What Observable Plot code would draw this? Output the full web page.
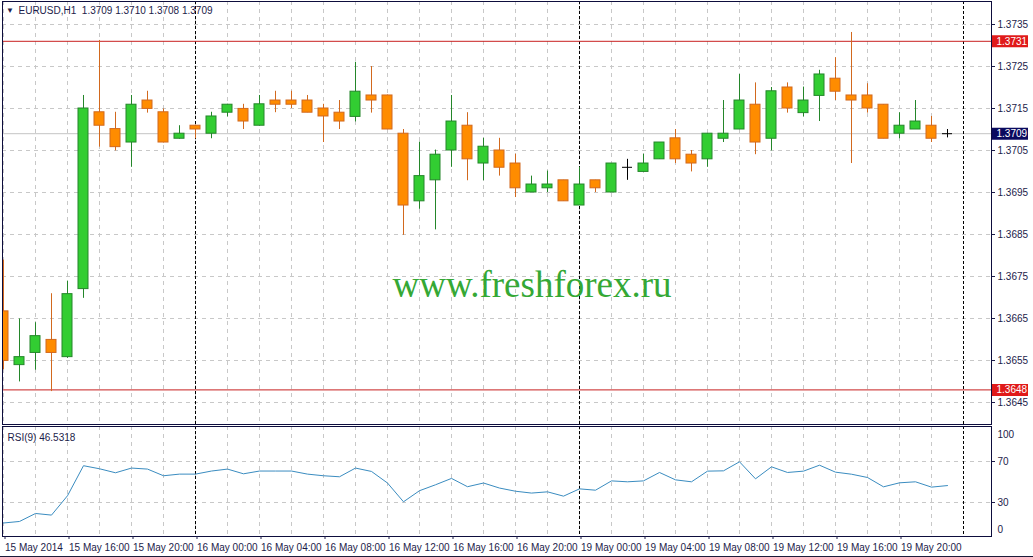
<!DOCTYPE html>
<html>
<head>
<meta charset="utf-8">
<script src="https://cdn.jsdelivr.net/npm/d3@7"></script>
<script src="https://cdn.jsdelivr.net/npm/@observablehq/plot@0.6"></script>
<style>
  html, body { margin: 0; padding: 0; background: #ffffff; }
  #chart { width: 1033px; height: 557px; overflow: hidden; background: #ffffff; }
  #chart svg { display: block; }
  #bottomline { height: 1px; background: #1b1b3a; }
</style>
</head>
<body>
<div id="chart"></div>
<script>
// ---------------- data ----------------
const opens  = [1.36667,1.36539,1.36568,1.36599,1.36558,1.36720,1.37141,1.37101,1.37069,1.37169,
                1.37141,1.37078,1.37109,1.37090,1.37140,1.37149,1.37109,1.37169,1.37169,1.37169,
                1.37150,1.37140,1.37130,1.37181,1.37181,1.37090,1.36929,1.36979,1.37050,1.37109,
                1.37019,1.37050,1.37019,1.36950,1.36960,1.36979,1.36919,1.36979,1.36950,1.37010,
                1.36999,1.37029,1.37079,1.37040,1.37029,1.37078,1.37100,1.37159,1.37078,1.37200,
                1.37139,1.37180,1.37221,1.37181,1.37181,1.37159,1.37090,1.37100,1.37109,1.37090];
const highs  = [1.36789,1.36649,1.36640,1.36709,1.36739,1.37181,1.37312,1.37141,1.37181,1.37191,
                1.37149,1.37109,1.37110,1.37141,1.37160,1.37160,1.37181,1.37191,1.37191,1.37181,
                1.37160,1.37169,1.37260,1.37250,1.37182,1.37100,1.37070,1.37051,1.37181,1.37140,
                1.37079,1.37079,1.37041,1.36989,1.37001,1.36979,1.37010,1.36979,1.37019,1.37029,
                1.37041,1.37069,1.37100,1.37050,1.37090,1.37169,1.37231,1.37211,1.37200,1.37211,
                1.37201,1.37241,1.37271,1.37331,1.37209,1.37159,1.37140,1.37169,1.37131,1.37100];
const lows   = [1.36528,1.36499,1.36527,1.36476,1.36555,1.36698,1.37058,1.37049,1.37010,1.37139,
                1.37068,1.37077,1.37078,1.37078,1.37130,1.37100,1.37108,1.37140,1.37150,1.37140,
                1.37069,1.37100,1.37118,1.37139,1.37100,1.36848,1.36910,1.36861,1.37010,1.36978,
                1.36978,1.36989,1.36938,1.36950,1.36950,1.36929,1.36919,1.36950,1.36950,1.36979,
                1.36999,1.37029,1.37019,1.36999,1.37010,1.37069,1.37100,1.37040,1.37049,1.37139,
                1.37130,1.37119,1.37169,1.37019,1.37139,1.37078,1.37078,1.37100,1.37069,1.37080];
const closes = [1.36549,1.36558,1.36608,1.36568,1.36708,1.37150,1.37109,1.37058,1.37159,1.37149,
                1.37069,1.37090,1.37100,1.37131,1.37159,1.37119,1.37160,1.37159,1.37159,1.37140,
                1.37131,1.37119,1.37190,1.37169,1.37100,1.36919,1.36989,1.37040,1.37119,1.37029,
                1.37059,1.37009,1.36960,1.36969,1.36969,1.36929,1.36969,1.36960,1.37019,1.37010,
                1.37019,1.37069,1.37029,1.37019,1.37090,1.37090,1.37169,1.37069,1.37191,1.37150,
                1.37169,1.37231,1.37190,1.37169,1.37150,1.37078,1.37109,1.37119,1.37078,1.37090];
const rsiValues = [10.0,11.5,19.3,17.7,36.6,65.9,62.9,59.0,63.6,62.6,
                   56.1,57.7,57.7,60.7,62.6,58.0,60.7,60.7,60.7,57.7,
                   56.1,55.1,63.6,60.3,49.0,30.7,41.5,47.3,53.5,45.4,
                   49.0,44.1,41.0,39.2,40.4,36.2,43.3,42.0,51.1,50.2,
                   51.1,59.3,52.1,50.2,60.6,60.9,69.7,53.1,64.8,59.3,
                   60.6,66.4,59.6,57.6,54.4,45.3,49.2,50.2,45.0,46.53];

const priceTicks = [1.3645,1.3655,1.3665,1.3675,1.3685,1.3695,1.3705,1.3715,1.3725,1.3735];
const rsiMidTicks = [30, 70];
const rsiTopTick = [100];
const rsiBottomTick = [0];
const timeTickBars = [0,4,8,12,16,20,24,28,32,36,40,44,48,52,56];
const timeTickLabels = ["15 May 2014","15 May 16:00","15 May 20:00","16 May 00:00","16 May 04:00",
                        "16 May 08:00","16 May 12:00","16 May 16:00","16 May 20:00","19 May 00:00",
                        "19 May 04:00","19 May 08:00","19 May 12:00","19 May 16:00","19 May 20:00"];
const gridBars = d3.range(0, 60, 2);
const daySeparatorBars = [12, 36, 60];
const levelLines = [1.3731, 1.3648];
const bidPrice = 1.3709;
const headerText = "EURUSD,H1  1.3709 1.3710 1.3708 1.3709";
const rsiHeaderText = "RSI(9) 46.5318";
const watermarkText = "www.freshforex.ru";

// ---------------- styling ----------------
const textColor = "#1c1c4a";
const frameColor = "#0d0d3d";
const gridColor = "#c8c8c8";
const upFill = "#32cd32", upLine = "#24862a";
const downFill = "#ff8c00", downLine = "#d2691e";
const levelColor = "#c82020";
const tagRed = "#e01a1a", tagNavy = "#0a0a5e";
const fontFamily = "'Liberation Sans', Arial, sans-serif";

const bars = opens.map((o, i) => ({i, open: o, high: highs[i], low: lows[i], close: closes[i]}));
const upBars = bars.filter(d => d.close > d.open);
const downBars = bars.filter(d => d.close < d.open);
const dojiBars = bars.filter(d => d.close === d.open);
const rsi = rsiValues.map((v, i) => ({i, v}));
const tags = [
  {v: levelLines[0], color: tagRed},
  {v: levelLines[1], color: tagRed},
  {v: bidPrice, color: tagNavy}
];

const xDomain = [-1/16, 61.75];
const xMax = xDomain[1];
const fmt4 = d3.format(".4f");

const main = Plot.plot({
  width: 1033, height: 426,
  marginLeft: 2, marginRight: 42, marginTop: 1, marginBottom: 2,
  x: {type: "linear", domain: xDomain, axis: null},
  y: {type: "linear", domain: [1.3735 - 400/42000, 1.3735 + 23/42000], axis: null},
  style: {fontFamily, fontSize: "10px", color: textColor, background: "#ffffff", overflow: "visible"},
  marks: [
    Plot.ruleY(priceTicks, {stroke: gridColor, strokeDasharray: "4,4"}),
    Plot.ruleX(gridBars, {stroke: gridColor, strokeDasharray: "4,4"}),
    Plot.ruleY([bidPrice], {stroke: "#c4c4c4"}),
    Plot.ruleX(daySeparatorBars, {stroke: "#000", strokeDasharray: "3,2"}),
    Plot.ruleY(levelLines, {stroke: levelColor}),
    Plot.text([watermarkText], {text: d => d, frameAnchor: "top-left", dx: 529.5, dy: 284,
      textAnchor: "middle", lineAnchor: "middle", fontSize: 37,
      fontFamily: "'Liberation Serif', 'Times New Roman', serif", fill: "#35a835"}),
    // candles
    Plot.ruleX(upBars, {x: "i", y1: "low", y2: "high", stroke: upLine, clip: true}),
    Plot.ruleX(downBars, {x: "i", y1: "low", y2: "high", stroke: downLine, clip: true}),
    Plot.ruleX(dojiBars, {x: "i", y1: "low", y2: "high", stroke: "#000", clip: true}),
    Plot.rect(upBars, {x1: d => d.i - 0.5, x2: d => d.i + 0.5, y1: "open", y2: "close",
      insetLeft: 3, insetRight: 3, fill: upFill, stroke: upLine, clip: true}),
    Plot.rect(downBars, {x1: d => d.i - 0.5, x2: d => d.i + 0.5, y1: "open", y2: "close",
      insetLeft: 3, insetRight: 3, fill: downFill, stroke: downLine, clip: true}),
    Plot.ruleY(dojiBars, {y: "open", x1: d => d.i - 5/16, x2: d => d.i + 5/16, stroke: "#000"}),
    Plot.frame({stroke: frameColor}),
    // header
    Plot.text(["▼"], {text: d => d, frameAnchor: "top-left", dx: 7.5, dy: 8.5,
      textAnchor: "middle", lineAnchor: "middle", fontSize: 8, fill: textColor}),
    Plot.text([headerText], {text: d => d, frameAnchor: "top-left", dx: 16, dy: 5,
      textAnchor: "start", lineAnchor: "top", fontSize: 10, fill: textColor}),
    // right axis
    Plot.axisY({ticks: priceTicks, anchor: "right", tickSize: 3, tickPadding: 3,
      tickFormat: fmt4, label: null, color: textColor, fontSize: 10}),
    // price tags
    Plot.ruleY(tags, {y: "v", x1: () => xMax + 1/16, x2: () => xMax + 37/16,
      stroke: d => d.color, strokeWidth: 12}),
    Plot.text(tags, {y: "v", x: () => xMax, dx: 5, text: d => fmt4(d.v),
      textAnchor: "start", fill: "#ffffff", fontSize: 10})
  ]
});

const rsiPlot = Plot.plot({
  width: 1033, height: 130,
  marginLeft: 2, marginRight: 42, marginTop: 0, marginBottom: 20,
  x: {type: "linear", domain: xDomain, axis: null},
  y: {type: "linear", domain: [-3.17, 104.15], axis: null},
  style: {fontFamily, fontSize: "10px", color: textColor, background: "#ffffff", overflow: "visible"},
  marks: [
    Plot.ruleY(rsiMidTicks, {stroke: gridColor, strokeDasharray: "4,4"}),
    Plot.ruleX(gridBars, {stroke: gridColor, strokeDasharray: "4,4"}),
    Plot.ruleX(daySeparatorBars, {stroke: "#000", strokeDasharray: "3,2"}),
    Plot.line(rsi, {x: "i", y: "v", stroke: "#3a8cc0", strokeWidth: 1}),
    Plot.frame({stroke: frameColor}),
    Plot.text([rsiHeaderText], {text: d => d, frameAnchor: "top-left", dx: 5, dy: 7,
      textAnchor: "start", lineAnchor: "top", fontSize: 10, fill: textColor}),
    Plot.axisY({ticks: rsiMidTicks, anchor: "right", tickSize: 3, tickPadding: 3,
      label: null, color: textColor, fontSize: 10}),
    Plot.axisY({ticks: rsiTopTick, anchor: "right", tickSize: 0, tickPadding: 6, dy: 4.5,
      label: null, color: textColor, fontSize: 10}),
    Plot.axisY({ticks: rsiBottomTick, anchor: "right", tickSize: 0, tickPadding: 6, dy: -3.5,
      label: null, color: textColor, fontSize: 10}),
    Plot.axisX({ticks: timeTickBars, anchor: "bottom", tickSize: 3, tickPadding: 4,
      tickFormat: d => timeTickLabels[timeTickBars.indexOf(d)], textAnchor: "start", dx: 1.5,
      label: null, color: textColor, fontSize: 10})
  ]
});

const chart = document.getElementById("chart");
chart.appendChild(main);
chart.appendChild(rsiPlot);
const line = document.createElement("div");
line.id = "bottomline";
chart.appendChild(line);
</script>
</body>
</html>
